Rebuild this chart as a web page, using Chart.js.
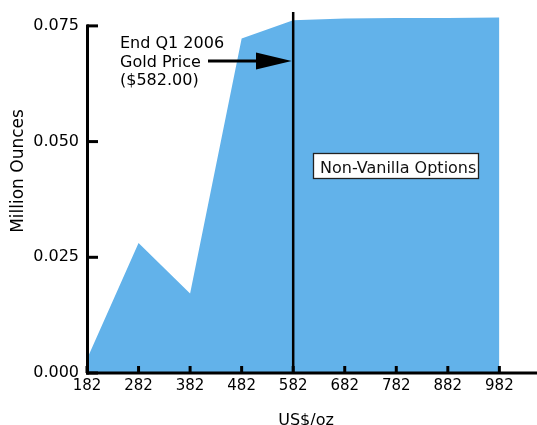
<!DOCTYPE html>
<html lang="en">
<head>
    <meta charset="UTF-8">
    <title>Non-Vanilla Options</title>
    <script src="https://cdn.jsdelivr.net/npm/chart.js"></script>
    <style>
        html, body { margin: 0; padding: 0; background: #fff; }
        .wrap { width: 537px; height: 425px; position: relative; }
    </style>
</head>
<body>
    <div class="wrap"><canvas id="chart"></canvas></div>
    <script>
        // values
        const prices = [182, 282, 382, 482, 582, 682, 782, 882, 982];
        const ounces = [0.003, 0.0281, 0.0172, 0.0723, 0.0762, 0.0766, 0.0767, 0.0767, 0.0768];
        const xTicks = [182, 282, 382, 482, 582, 682, 782, 882, 982];
        const yTicks = [0, 0.025, 0.05, 0.075];
        const goldPrice = 582;
        const noteLines = ['End Q1 2006', 'Gold Price', '($582.00)'];
        const boxLabel = 'Non-Vanilla Options';

        const FONT = '"DejaVu Sans", Verdana, sans-serif';

        // axes, tick marks, titles, gold price line and notes
        const decorations = {
            id: 'decorations',
            afterDatasetsDraw(chart) {
                const { ctx, chartArea: a, scales: { x, y } } = chart;
                ctx.save();
                ctx.strokeStyle = '#000';
                ctx.fillStyle = '#000';
                ctx.lineCap = 'butt';

                // gold price line
                const gx = x.getPixelForValue(goldPrice);
                ctx.lineWidth = 2.5;
                ctx.beginPath();
                ctx.moveTo(gx, a.top);
                ctx.lineTo(gx, a.bottom);
                ctx.stroke();

                // y axis
                const yTop = y.getPixelForValue(yTicks[yTicks.length - 1]);
                ctx.lineWidth = 3;
                ctx.beginPath();
                ctx.moveTo(a.left + 0.5, yTop - 1.5);
                ctx.lineTo(a.left + 0.5, a.bottom + 1.5);
                ctx.stroke();
                yTicks.forEach(v => {
                    const py = y.getPixelForValue(v);
                    ctx.beginPath();
                    ctx.moveTo(a.left, py);
                    ctx.lineTo(a.left + 11, py);
                    ctx.stroke();
                });

                // x axis
                ctx.beginPath();
                ctx.moveTo(a.left - 1, a.bottom);
                ctx.lineTo(a.right, a.bottom);
                ctx.stroke();
                xTicks.forEach(v => {
                    const px = x.getPixelForValue(v);
                    ctx.beginPath();
                    ctx.moveTo(px, a.bottom);
                    ctx.lineTo(px, a.bottom - 7);
                    ctx.stroke();
                });

                // axis titles
                ctx.textAlign = 'center';
                ctx.textBaseline = 'middle';
                ctx.font = '16px ' + FONT;
                ctx.fillText('US$/oz', 306, 421);
                ctx.save();
                ctx.font = '17px ' + FONT;
                ctx.translate(19, 171);
                ctx.rotate(-Math.PI / 2);
                ctx.fillText('Million Ounces', 0, 0);
                ctx.restore();

                // note and arrow
                ctx.font = '16px ' + FONT;
                ctx.textAlign = 'left';
                ctx.textBaseline = 'alphabetic';
                noteLines.forEach((t, i) => ctx.fillText(t, 120, 48 + i * 18.5));
                const ay = 61;
                const tip = gx - 1.5;
                ctx.lineWidth = 3;
                ctx.beginPath();
                ctx.moveTo(208, ay);
                ctx.lineTo(258, ay);
                ctx.stroke();
                ctx.beginPath();
                ctx.moveTo(256, ay - 8.5);
                ctx.lineTo(tip, ay);
                ctx.lineTo(256, ay + 8.5);
                ctx.closePath();
                ctx.fill();

                // boxed label
                ctx.fillStyle = '#fff';
                ctx.fillRect(313.5, 153.5, 165, 25);
                ctx.lineWidth = 1.3;
                ctx.strokeStyle = '#222';
                ctx.strokeRect(313.5, 153.5, 165, 25);
                ctx.fillStyle = '#111';
                ctx.fillText(boxLabel, 320, 172.5);

                ctx.restore();
            }
        };

        new Chart(document.getElementById('chart'), {
            type: 'line',
            data: {
                datasets: [{
                    data: prices.map((p, i) => ({ x: p, y: ounces[i] })),
                    fill: 'origin',
                    backgroundColor: '#62b2ea',
                    borderWidth: 0,
                    pointRadius: 0,
                    tension: 0
                }]
            },
            options: {
                responsive: true,
                maintainAspectRatio: false,
                animation: false,
                layout: { padding: { top: 12, left: 0, right: 0, bottom: 0 } },
                plugins: {
                    legend: { display: false },
                    tooltip: { enabled: false }
                },
                scales: {
                    x: {
                        type: 'linear',
                        min: 182,
                        max: 1055,
                        grid: { display: false, drawTicks: false },
                        border: { display: false },
                        afterBuildTicks: s => { s.ticks = xTicks.map(v => ({ value: v })); },
                        afterFit: s => { s.height = 52; s.paddingRight = 0; },
                        ticks: {
                            autoSkip: false,
                            maxRotation: 0,
                            padding: 4,
                            color: '#000',
                            font: { family: FONT, size: 15 },
                            callback: v => String(v)
                        }
                    },
                    y: {
                        min: 0,
                        max: 0.078,
                        grid: { display: false, drawTicks: false },
                        border: { display: false },
                        afterBuildTicks: s => { s.ticks = yTicks.map(v => ({ value: v })); },
                        afterFit: s => { s.width = 87; s.paddingTop = 0; s.paddingBottom = 0; },
                        ticks: {
                            padding: 8,
                            color: '#000',
                            font: { family: FONT, size: 16 },
                            callback: v => v.toFixed(3)
                        }
                    }
                }
            },
            plugins: [decorations]
        });
    </script>
</body>
</html>
